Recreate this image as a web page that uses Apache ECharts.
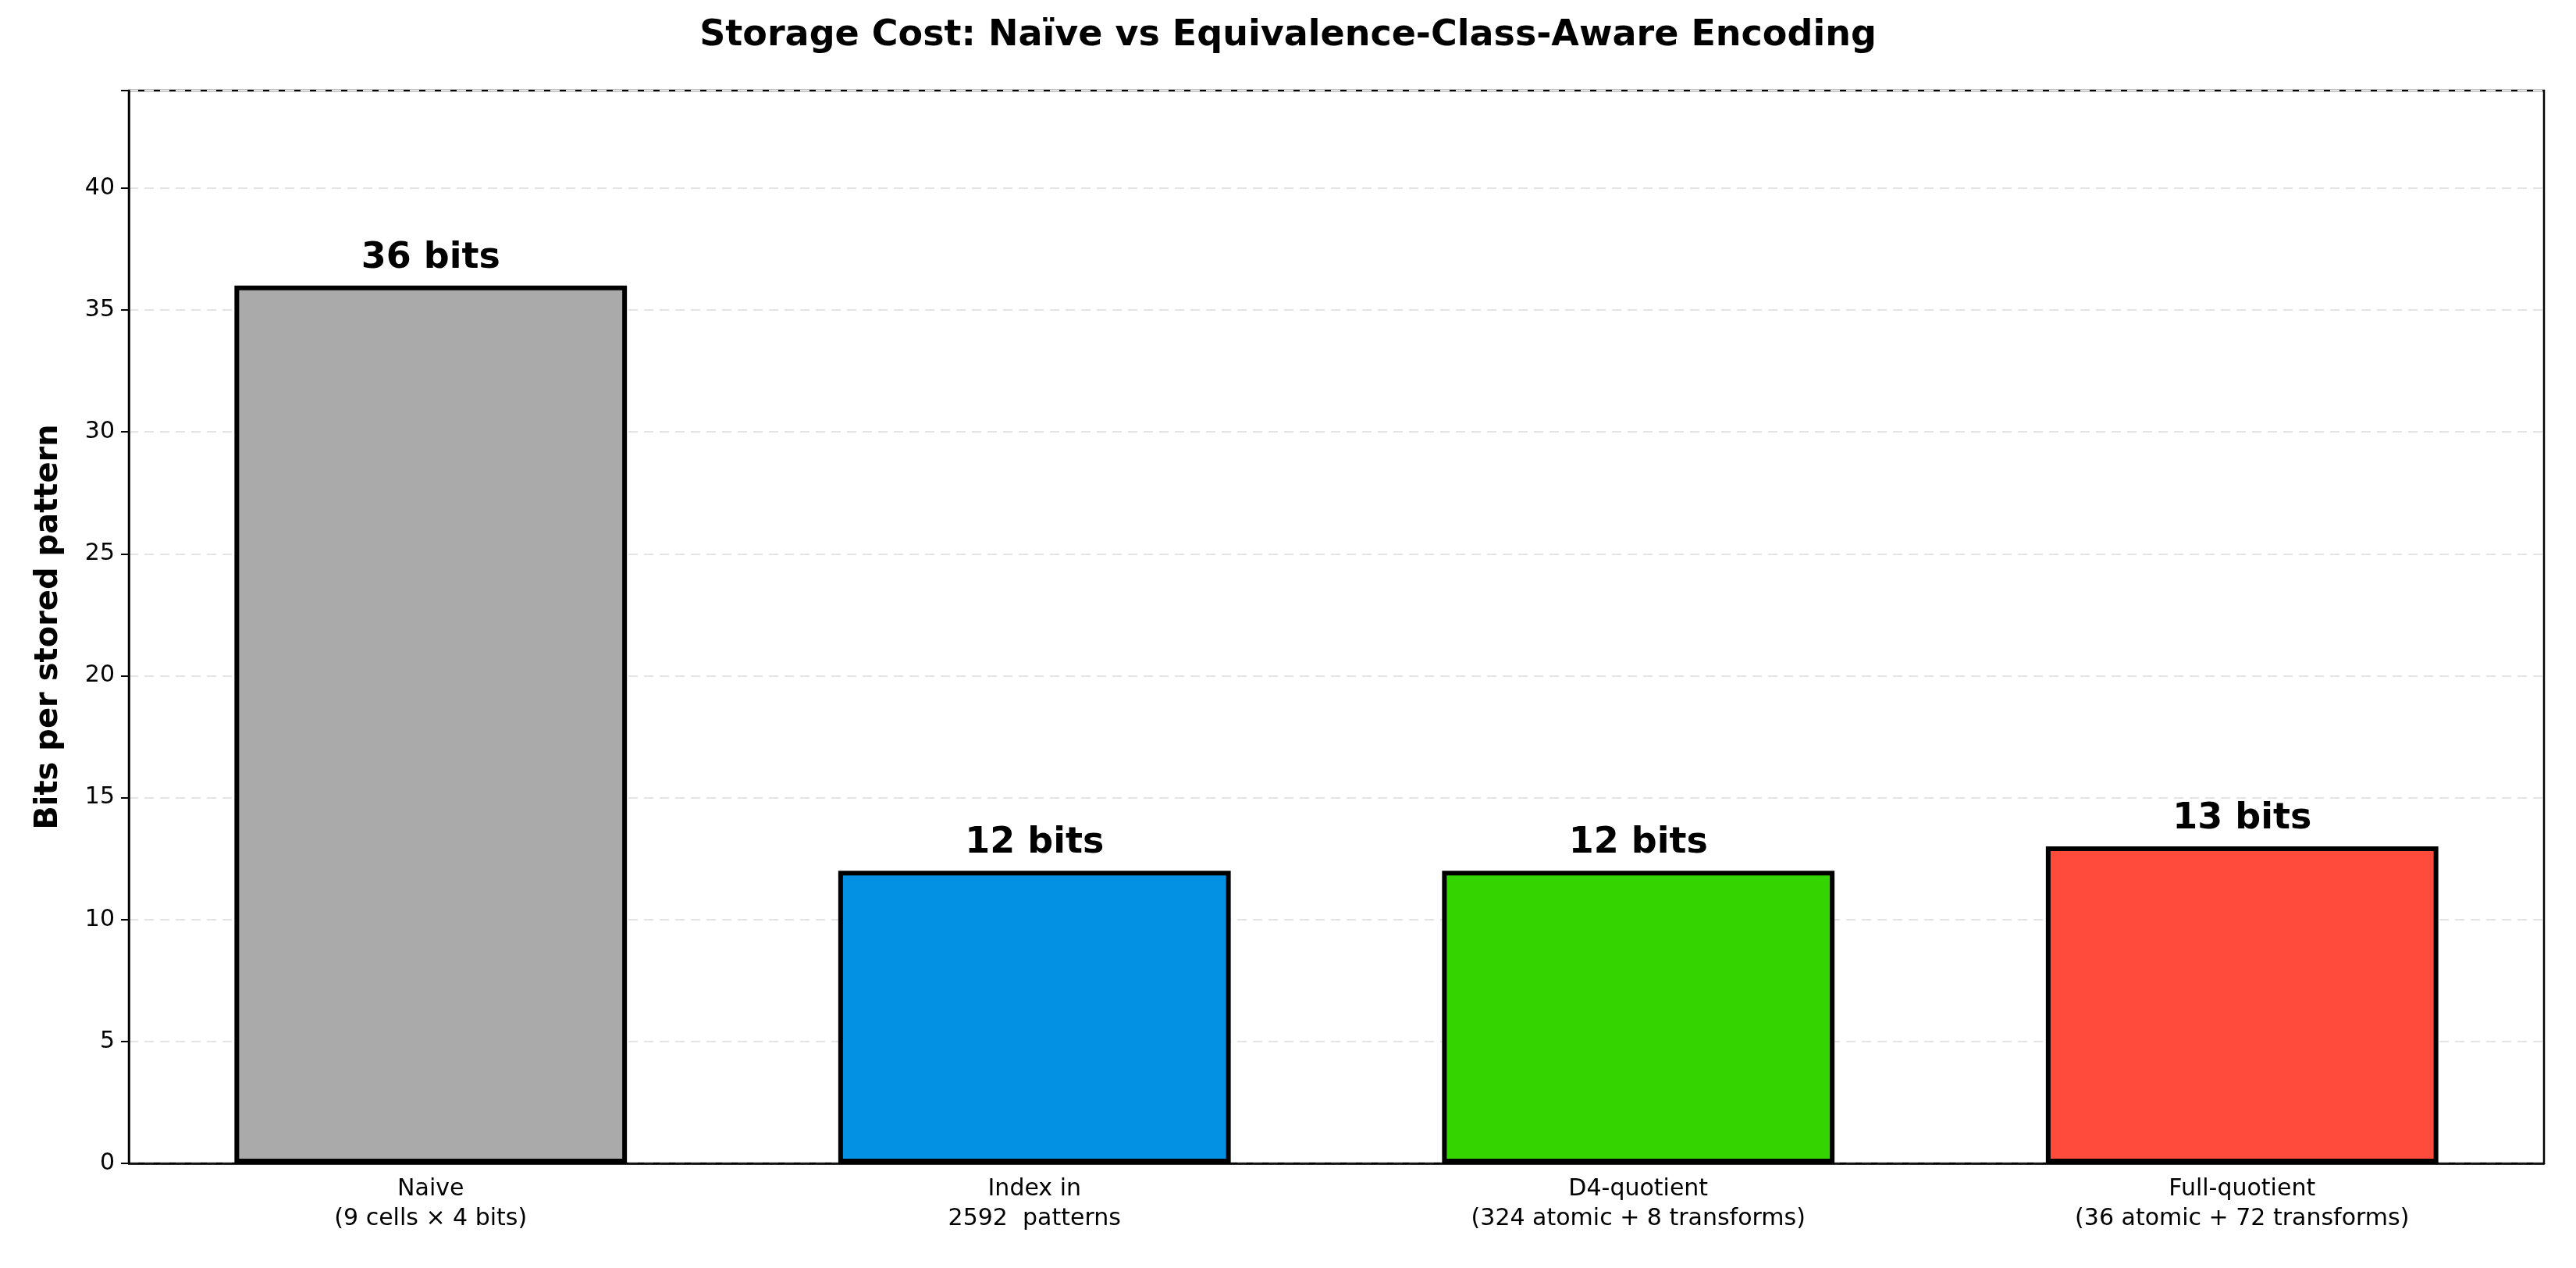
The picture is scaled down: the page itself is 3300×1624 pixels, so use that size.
<!DOCTYPE html>
<html><head><meta charset="utf-8">
<script src="https://cdn.jsdelivr.net/npm/echarts@6/dist/echarts.min.js"></script>
<style>html,body{margin:0;background:#fff}#main{width:3300px;height:1624px}</style>
</head><body><div id="main"></div>
<script>
var categories = ['Naive\n(9 cells × 4 bits)', 'Index in\n2592  patterns', 'D4-quotient\n(324 atomic + 8 transforms)', 'Full-quotient\n(36 atomic + 72 transforms)'];
var bitsValues = [36, 12, 12, 13];
var barColors = ['#aaaaaa', '#0391e3', '#33d400', '#ff4b3b'];
var yTicks = [0, 5, 10, 15, 20, 25, 30, 35, 40];

var myChart = echarts.init(document.getElementById('main'));
var option = {
    backgroundColor: '#fff',
    textStyle: { fontFamily: 'DejaVu Sans' },
    title: {
        text: 'Storage Cost: Naïve vs Equivalence-Class-Aware Encoding',
        left: 'center', top: 18,
        textStyle: { fontSize: 46, fontWeight: 'bold', color: '#000', fontFamily: 'DejaVu Sans' }
    },
    grid: { left: 165, right: 41, top: 116, bottom: 134, show: true, borderColor: '#000', borderWidth: 2.5 },
    xAxis: {
        type: 'category',
        data: categories,
        axisLine: { lineStyle: { color: '#000', width: 2.5 } },
        axisTick: { alignWithLabel: true, length: 10, lineStyle: { color: '#000', width: 2 } },
        axisLabel: { fontSize: 30, color: '#000', lineHeight: 38, margin: 14 }
    },
    yAxis: {
        type: 'value', min: 0, max: 44, interval: 5,
        name: 'Bits per stored pattern',
        nameLocation: 'middle', nameGap: 82,
        nameTextStyle: { fontSize: 40, fontWeight: 'bold', color: '#000' },
        axisLine: { show: true, lineStyle: { color: '#000', width: 2.5 } },
        axisTick: { show: true, length: 10, lineStyle: { color: '#000', width: 2 } },
        axisLabel: { fontSize: 30, color: '#000', margin: 18,
            formatter: function (v) { return yTicks.indexOf(v) >= 0 ? v : ''; } },
        splitLine: { lineStyle: { color: '#e4e4e4', type: [12, 8], width: 2 } }
    },
    series: [{
        type: 'bar',
        barWidth: '65%',
        data: bitsValues.map(function (v, i) {
            return { value: v, itemStyle: { color: barColors[i], borderColor: '#000', borderWidth: 6 } };
        }),
        label: {
            show: true, position: 'top', distance: 12,
            formatter: '{c} bits',
            fontSize: 46, fontWeight: 'bold', color: '#000'
        }
    }]
};
myChart.setOption(option);
</script></body></html>
